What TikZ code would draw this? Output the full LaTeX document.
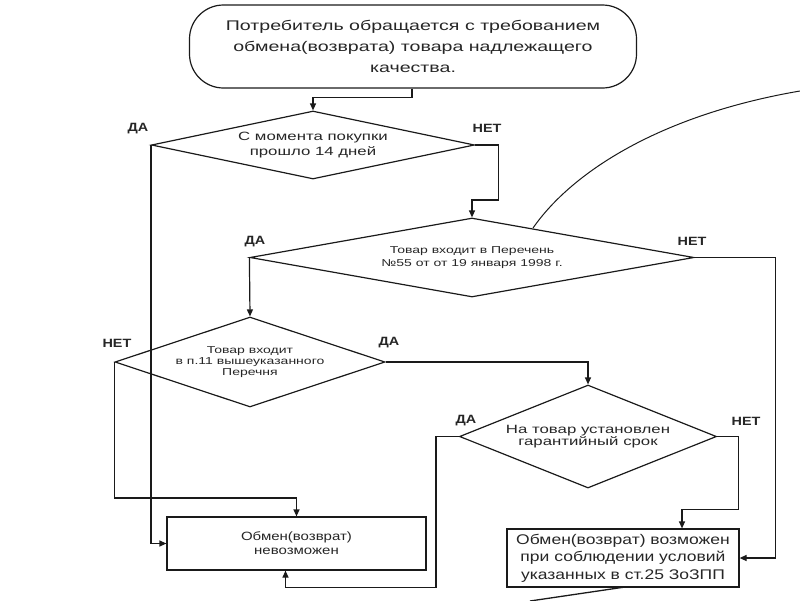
\documentclass[tikz,border=0pt]{standalone}
\usepackage{fontspec}
\setmainfont{Liberation Sans}
\newfontfamily\fS[FakeStretch=1.4]{Liberation Sans}
\newfontfamily\fB[FakeStretch=1.25]{Liberation Sans}
\newfontfamily\fL[FakeStretch=1.2]{Liberation Sans}
\usetikzlibrary{shapes.geometric,arrows.meta}
\definecolor{ink}{HTML}{1A1A1A}
\definecolor{txt}{HTML}{262626}
\tikzset{
  line/.style={draw=ink, line width=1.2pt},
  arr/.style={line, -{Triangle[length=7pt,width=6pt]}},
  dia/.style={diamond, draw=ink, line width=1.2pt, inner sep=0pt},
  box/.style={rectangle, draw=ink, line width=1.2pt, inner sep=0pt},
  term/.style={rectangle, rounded corners=34pt, draw=ink, line width=1.2pt, inner sep=0pt},
  ttext/.style={text=txt, align=center, inner sep=0pt},
  lbl/.style={text=txt, inner sep=0pt, font=\fL\bfseries\fontsize{12}{14}\selectfont},
}
\begin{document}
\begin{tikzpicture}[x=1pt,y=-1pt]
\useasboundingbox (0,0) rectangle (800,600);

\node[term, minimum width=447pt, minimum height=83pt,
  label={[ttext, font=\fS\fontsize{14}{21}\selectfont]center:{Потребитель обращается с требованием\\обмена(возврата) товара надлежащего\\качества.}}]
  (term) at (413,46.5) {};

\node[dia, minimum width=323pt, minimum height=68pt,
  label={[ttext, font=\fS\fontsize{12}{14.5}\selectfont]center:{С момента покупки\\прошло 14 дней}}]
  (d1) at (313,145) {};

\node[dia, minimum width=444pt, minimum height=79pt,
  label={[ttext, font=\fS\fontsize{10}{13}\selectfont]center:{Товар входит в Перечень\\№55 от от 19 января 1998 г.}}]
  (d2) at (472,257.5) {};

\node[dia, minimum width=270pt, minimum height=90pt,
  label={[ttext, font=\fS\fontsize{10}{11}\selectfont]center:{Товар входит\\в п.11 вышеуказанного\\Перечня}}]
  (d3) at (250,362) {};

\node[dia, minimum width=257pt, minimum height=103pt,
  label={[ttext, font=\fS\fontsize{12}{12.5}\selectfont]center:{На товар установлен\\гарантийный срок}}]
  (d4) at (588,436.5) {};

\node[box, minimum width=259pt, minimum height=53pt,
  label={[ttext, font=\fB\fontsize{12}{14}\selectfont]center:{Обмен(возврат)\\невозможен}}]
  (box1) at (296.5,543.5) {};

\node[box, minimum width=232pt, minimum height=58pt,
  label={[ttext, font=\fB\fontsize{14}{17.5}\selectfont]center:{Обмен(возврат) возможен\\при соблюдении условий\\указанных в ст.25 ЗоЗПП}}]
  (box2) at (623,558) {};

% labels
\node[lbl] (l1) at (138,129) {ДА};
\node[lbl] (l2) at (487,128) {НЕТ};
\node[lbl] (l3) at (255,242) {ДА};
\node[lbl] (l4) at (692,241) {НЕТ};
\node[lbl] (l5) at (117,343) {НЕТ};
\node[lbl] (l6) at (389,343) {ДА};
\node[lbl] (l7) at (466,421) {ДА};
\node[lbl] (l8) at (746,421) {НЕТ};

% connectors
\draw[arr] (term.south -| 412,0) -- ++(0,9) -| (d1.north);
\draw[arr] (d1.west) |- (box1.west);
\draw[arr] (d1.east) -- ++(23,0) -- ++(0,55) -| (d2.north);
\draw[arr] (d2.west) -- (d3.north);
\draw[arr] (d2.east) -- ++(81,0) |- (box2.east);
\draw[arr] (d3.west) -- ++(0,136) -| (box1.north);
\draw[arr] (d3.east) -| (d4.north);
\draw[arr] (d4.west) -- ++(-23,0) -- ++(0,151) -| ([xshift=-11pt]box1.south);
\draw[arr] (d4.east) -- ++(21,0) -- ++(0,73) -| ([xshift=59pt]box2.north);

% free strokes
\coordinate (c1) at (533,228);
\coordinate (c2) at (800,91);
\draw[ink, line width=1pt] (c1) .. controls (572,172) and (660,115) .. (c2);
\coordinate (s1) at (530,601);
\coordinate (s2) at (625,587);
\draw[ink, line width=1.3pt] (s1) -- (s2);
\end{tikzpicture}
\end{document}
